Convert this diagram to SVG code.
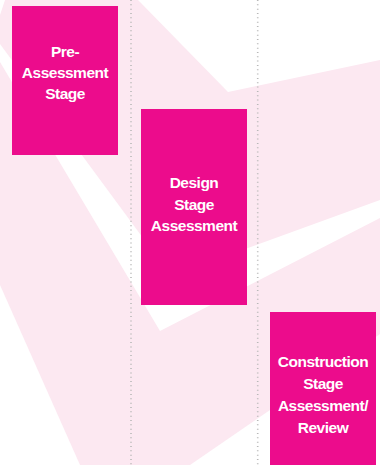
<svg xmlns="http://www.w3.org/2000/svg" width="380" height="465" viewBox="0 0 380 465">
  <style>
    .bg { fill: #fce8f1; }
    .cut { fill: #ffffff; }
    .guide { stroke: #b8b8b8; stroke-width: 1.6; stroke-dasharray: 1 3.33; fill: none; }
    .stage { fill: #ec0c8c; }
    .label { fill: #ffffff; font-family: "Liberation Sans", Arial, sans-serif; font-weight: bold; font-size: 15.5px; letter-spacing: -0.5px; text-anchor: middle; }
  </style>

  <!-- backdrop: pale chevron shapes -->
  <g id="backdrop">
    <rect class="bg" x="0" y="0" width="380" height="465"/>
    <polygon class="cut" points="0,0 5,0 0,15"/>
    <polygon class="cut" points="138,0 228,92 380,60 380,0"/>
    <polygon class="cut" points="0,44 171,276 380,200 380,218 160,331 0,62"/>
    <polygon class="cut" points="0,285 80,465 0,465"/>
    <polygon class="cut" points="190,465 270,410 380,334 380,465"/>
  </g>

  <!-- dotted column dividers -->
  <g id="connectors">
    <line class="guide" x1="131" y1="0" x2="131" y2="465"/>
    <line class="guide" x1="257.7" y1="0" x2="257.7" y2="465"/>
  </g>

  <g id="pre-assessment">
    <rect class="stage" x="12" y="6" width="106" height="149"/>
    <text class="label" x="65" y="57">Pre-</text>
    <text class="label" x="65" y="78">Assessment</text>
    <text class="label" x="65" y="99">Stage</text>
  </g>

  <g id="design-stage">
    <rect class="stage" x="141" y="109" width="106" height="196"/>
    <text class="label" x="194" y="188">Design</text>
    <text class="label" x="194" y="210">Stage</text>
    <text class="label" x="194" y="231">Assessment</text>
  </g>

  <g id="construction-stage">
    <rect class="stage" x="270" y="312" width="106" height="153"/>
    <text class="label" x="323" y="367">Construction</text>
    <text class="label" x="323" y="389">Stage</text>
    <text class="label" x="323" y="411">Assessment/</text>
    <text class="label" x="323" y="433">Review</text>
  </g>
</svg>
